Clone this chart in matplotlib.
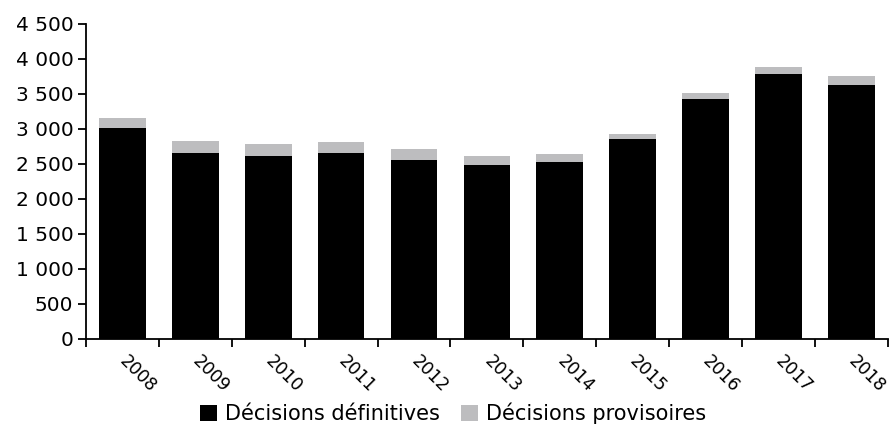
import matplotlib
matplotlib.use("Agg")
import matplotlib.pyplot as plt
import numpy as np
from matplotlib.ticker import FuncFormatter

annees = ["2008", "2009", "2010", "2011", "2012", "2013", "2014", "2015", "2016", "2017", "2018"]
definitives = [3010, 2660, 2615, 2660, 2560, 2485, 2535, 2860, 3435, 3780, 3630]
provisoires = [150, 170, 170, 155, 150, 130, 105, 75, 75, 105, 130]

plt.rcParams["font.family"] = ["DejaVu Sans"]

fig = plt.figure(figsize=(8.89, 4.36), dpi=100)
ax = fig.add_axes([0.0967, 0.2225, 0.902, 0.7225])

x = np.arange(len(annees))
ax.bar(x, definitives, width=0.64, color="black", label="Décisions définitives")
ax.bar(x, provisoires, width=0.64, bottom=definitives, color="#bdbdbf",
       label="Décisions provisoires")

ax.set_ylim(0, 4500)
ax.set_yticks(np.arange(0, 4501, 500))
ax.yaxis.set_major_formatter(FuncFormatter(lambda v, p: f"{v:,.0f}".replace(",", " ")))
ax.tick_params(axis="y", labelsize=14.5, length=6, width=1.3, direction="out", pad=3)

# ticks between categories, year labels centred under each bar
ax.set_xlim(-0.5, len(annees) - 0.5)
ax.set_xticks(np.arange(-0.5, len(annees), 1))
ax.set_xticklabels([])
ax.tick_params(axis="x", which="major", length=6, width=1.3, direction="out")
ax.set_xticks(x, minor=True)
ax.set_xticklabels(annees, minor=True, rotation=-45, ha="left", va="center",
                   rotation_mode="anchor", fontsize=12.5)
ax.tick_params(axis="x", which="minor", length=0, pad=14)

for s in ["top", "right"]:
    ax.spines[s].set_visible(False)
for s in ["left", "bottom"]:
    ax.spines[s].set_linewidth(1.3)

fig.legend(loc="lower center", bbox_to_anchor=(0.51, -0.016), ncol=2, frameon=False,
           fontsize=15, handlelength=0.8, handleheight=0.8, handletextpad=0.4,
           columnspacing=1.0)

fig.savefig("out.png", dpi=100)
